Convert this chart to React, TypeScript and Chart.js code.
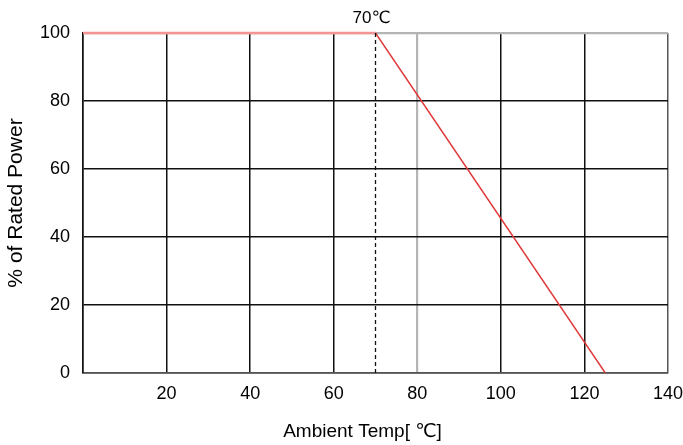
import React, { useEffect, useRef } from "react";
import { Chart, registerables } from "chart.js";

Chart.register(...registerables);

// Derating curve data
const curveTemps = [0, 70, 125];
const curvePower = [100, 100, 0];
const kneeTemp = 70;
const kneeLine = [0, 100];
const kneeLabel = "70℃";
const xTicks = { min: 0, max: 140, step: 20 };
const yTicks = { min: 0, max: 100, step: 20 };
const xTitle = "Ambient Temp[ ℃]";
const yTitle = "% of Rated Power";

const FONT = "'Liberation Sans', Arial, Helvetica, 'DejaVu Sans', sans-serif";

const textPlugin = {
  id: "extraText",
  afterDraw(chart: any) {
    const { ctx, scales, chartArea } = chart;
    const x = scales.x.getPixelForValue(kneeTemp);
    const y = scales.y.getPixelForValue(100);
    ctx.save();
    ctx.font = `17px ${FONT}`;
    ctx.fillStyle = "#000";
    ctx.textAlign = "center";
    ctx.textBaseline = "alphabetic";
    ctx.fillText(kneeLabel, x - 4, y - 10);
    // x-axis title
    ctx.font = `19px ${FONT}`;
    ctx.fillText(xTitle, (chartArea.left + chartArea.right) / 2 - 13, chart.height - 8);
    ctx.restore();
  },
};

export default function App() {
  const ref = useRef<HTMLCanvasElement>(null);

  useEffect(() => {
    if (!ref.current) return;
    const chart = new Chart(ref.current, {
      type: "scatter",
      data: {
        datasets: [
          {
            data: kneeLine.map((v) => ({ x: kneeTemp, y: v })),
            showLine: true,
            borderColor: "#111",
            borderWidth: 1.3,
            borderDash: [4, 3],
            pointRadius: 0,
            clip: false,
          },
          {
            data: curveTemps.map((t, i) => ({ x: t, y: curvePower[i] })),
            showLine: true,
            borderColor: "#e03838",
            borderWidth: 1.4,
            pointRadius: 0,
            clip: false,
            segment: {
              borderColor: (c: any) => (c.p0DataIndex === 0 ? "#f49494" : "#e03838"),
              borderWidth: (c: any) => (c.p0DataIndex === 0 ? 2.6 : 1.4),
            },
          },
        ],
      },
      options: {
        responsive: false,
        animation: false,
        layout: { padding: { top: 33, right: 15, left: 0, bottom: 0 } },
        plugins: { legend: { display: false }, tooltip: { enabled: false } },
        scales: {
          x: {
            type: "linear",
            min: xTicks.min,
            max: xTicks.max,
            afterFit: (s: any) => {
              s.height = 72;
              s.paddingLeft = 0;
              s.paddingRight = 0;
            },
            ticks: {
              stepSize: xTicks.step,
              padding: 10,
              color: "#000",
              font: { family: FONT, size: 18 },
              callback: (v: any) => (v === 0 ? "" : String(v)),
              maxRotation: 0,
            },
            grid: {
              drawTicks: false,
              color: (c: any) =>
                c.tick && c.tick.value === 80 ? "#b4b4b4" : c.tick && c.tick.value === 140 ? "#555" : "#111",
              lineWidth: (c: any) => (c.tick && c.tick.value === 80 ? 2.2 : 1.5),
            },
            border: { color: "#555", width: 1.5 },
            title: { display: false },
          },
          y: {
            min: yTicks.min,
            max: yTicks.max,
            afterFit: (s: any) => {
              s.width = 83;
              s.paddingTop = 0;
              s.paddingBottom = 0;
            },
            ticks: {
              stepSize: yTicks.step,
              padding: 13,
              color: "#000",
              font: { family: FONT, size: 18 },
            },
            grid: {
              drawTicks: false,
              color: (c: any) => (c.tick && c.tick.value === 100 ? "#b4b4b4" : "#111"),
              lineWidth: (c: any) => (c.tick && c.tick.value === 100 ? 2.2 : 1.5),
            },
            border: { color: "#111", width: 1.5 },
            title: {
              display: true,
              text: yTitle,
              color: "#000",
              font: { family: FONT, size: 21 },
              padding: { top: 4, bottom: 0 },
            },
          },
        },
      },
      plugins: [textPlugin],
    } as any);
    return () => chart.destroy();
  }, []);

  return (
    <div style={{ position: "absolute", left: 0, top: 0, width: 683, height: 445, background: "#fff" }}>
      <canvas ref={ref} width={683} height={445} style={{ display: "block" }} />
    </div>
  );
}
